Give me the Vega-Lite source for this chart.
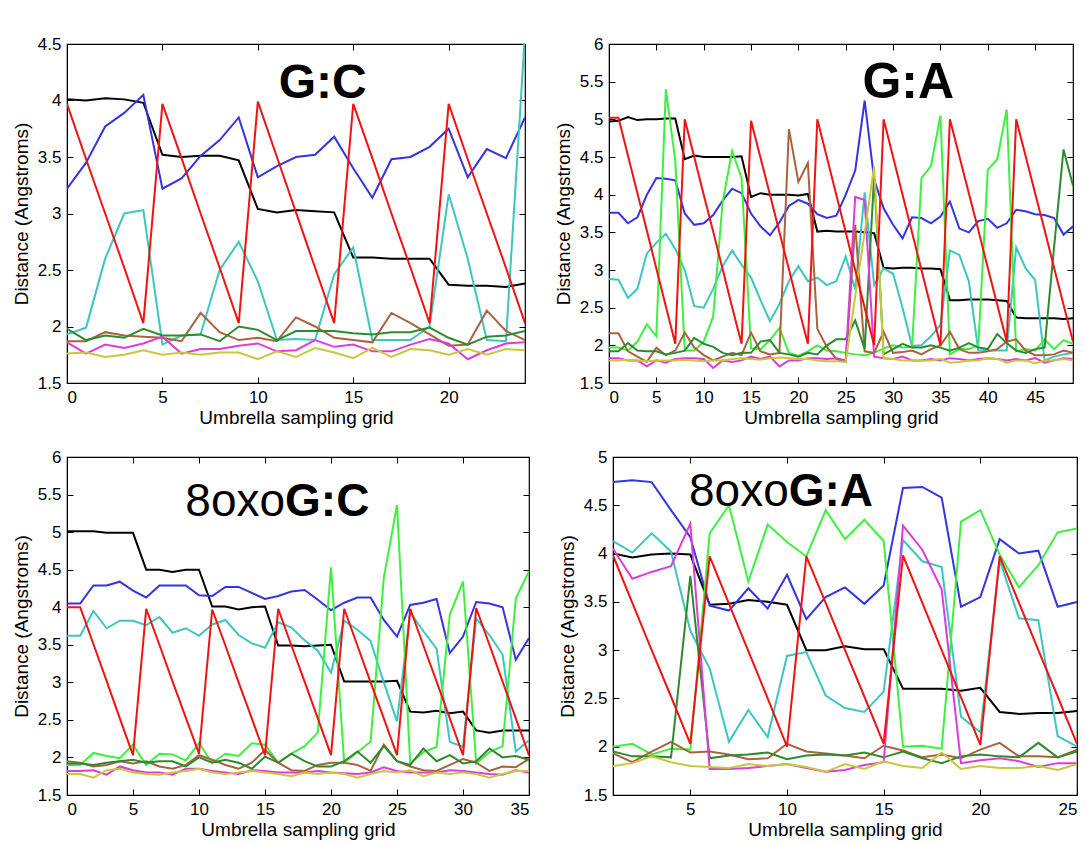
{
"$schema":"https://vega.github.io/schema/vega-lite/v6.json",
"padding":{"top":34,"left":11,"right":5,"bottom":3},
"background":"white",
"spacing":19,
"datasets":{
"gc":[
{"x":0,"k":4.01,"r":3.97,"b":3.22,"c":1.93,"br":1.87,"dg":1.98,"m":1.86,"yl":1.76},
{"x":1,"k":4.00,"r":3.48,"b":3.45,"c":1.99,"br":1.87,"dg":1.88,"m":1.76,"yl":1.77},
{"x":2,"k":4.02,"r":3.00,"b":3.77,"c":2.60,"br":1.95,"dg":1.92,"m":1.84,"yl":1.73},
{"x":3,"k":4.01,"r":2.52,"b":3.89,"c":3.00,"br":1.92,"dg":1.90,"m":1.81,"yl":1.75},
{"x":4,"k":3.98,"r":2.03,"b":4.05,"c":3.03,"br":1.91,"dg":1.98,"m":1.85,"yl":1.79},
{"x":5,"k":3.52,"r":3.97,"b":3.22,"c":1.84,"br":1.90,"dg":1.92,"m":1.91,"yl":1.75},
{"x":6,"k":3.50,"r":3.49,"b":3.31,"c":1.92,"br":1.87,"dg":1.92,"m":1.76,"yl":1.77},
{"x":7,"k":3.51,"r":3.00,"b":3.51,"c":1.93,"br":2.12,"dg":1.93,"m":1.80,"yl":1.75},
{"x":8,"k":3.51,"r":2.52,"b":3.65,"c":2.50,"br":1.95,"dg":1.87,"m":1.80,"yl":1.77},
{"x":9,"k":3.47,"r":2.03,"b":3.85,"c":2.75,"br":1.88,"dg":2.00,"m":1.83,"yl":1.77},
{"x":10,"k":3.04,"r":3.99,"b":3.32,"c":2.40,"br":1.90,"dg":1.97,"m":1.85,"yl":1.71},
{"x":11,"k":3.01,"r":3.50,"b":3.42,"c":1.88,"br":1.87,"dg":1.88,"m":1.78,"yl":1.78},
{"x":12,"k":3.03,"r":3.01,"b":3.50,"c":1.89,"br":2.08,"dg":1.96,"m":1.79,"yl":1.73},
{"x":13,"k":3.02,"r":2.52,"b":3.52,"c":1.88,"br":2.00,"dg":1.96,"m":1.88,"yl":1.81},
{"x":14,"k":3.01,"r":2.03,"b":3.68,"c":2.46,"br":1.90,"dg":1.96,"m":1.82,"yl":1.77},
{"x":15,"k":2.61,"r":3.97,"b":3.40,"c":2.70,"br":1.88,"dg":1.94,"m":1.84,"yl":1.72},
{"x":16,"k":2.61,"r":3.49,"b":3.14,"c":1.88,"br":1.86,"dg":1.93,"m":1.78,"yl":1.81},
{"x":17,"k":2.60,"r":3.00,"b":3.48,"c":1.88,"br":2.12,"dg":1.95,"m":1.78,"yl":1.73},
{"x":18,"k":2.60,"r":2.52,"b":3.50,"c":1.88,"br":2.03,"dg":1.95,"m":1.84,"yl":1.80},
{"x":19,"k":2.60,"r":2.03,"b":3.59,"c":2.00,"br":1.93,"dg":1.99,"m":1.89,"yl":1.79},
{"x":20,"k":2.37,"r":3.97,"b":3.75,"c":3.17,"br":1.83,"dg":1.90,"m":1.85,"yl":1.75},
{"x":21,"k":2.36,"r":3.48,"b":3.32,"c":2.60,"br":1.84,"dg":1.84,"m":1.71,"yl":1.80},
{"x":22,"k":2.36,"r":3.00,"b":3.57,"c":1.88,"br":2.14,"dg":1.91,"m":1.79,"yl":1.75},
{"x":23,"k":2.35,"r":2.52,"b":3.49,"c":1.87,"br":1.96,"dg":1.92,"m":1.85,"yl":1.80},
{"x":24,"k":2.38,"r":2.03,"b":3.85,"c":4.60,"br":1.88,"dg":1.96,"m":1.86,"yl":1.79}
],
"ga":[
{"x":0,"k":4.97,"r":5.02,"b":3.76,"c":2.88,"g":1.97,"br":2.16,"dg":1.92,"m":1.83,"yl":1.80},
{"x":1,"k":4.98,"r":5.02,"b":3.76,"c":2.87,"g":1.97,"br":2.16,"dg":1.92,"m":1.83,"yl":1.80},
{"x":2,"k":5.03,"r":4.52,"b":3.62,"c":2.63,"g":1.93,"br":1.92,"dg":2.03,"m":1.80,"yl":1.81},
{"x":3,"k":4.99,"r":4.02,"b":3.70,"c":2.75,"g":2.05,"br":1.85,"dg":1.93,"m":1.80,"yl":1.80},
{"x":4,"k":5.00,"r":3.52,"b":4.00,"c":3.22,"g":2.28,"br":1.78,"dg":1.92,"m":1.72,"yl":1.79},
{"x":5,"k":5.00,"r":3.02,"b":4.22,"c":3.36,"g":2.12,"br":1.97,"dg":1.92,"m":1.80,"yl":1.80},
{"x":6,"k":5.01,"r":2.52,"b":4.21,"c":3.48,"g":5.40,"br":1.87,"dg":1.88,"m":1.77,"yl":1.80},
{"x":7,"k":5.01,"r":2.02,"b":4.19,"c":3.28,"g":4.45,"br":1.93,"dg":1.90,"m":1.82,"yl":1.80},
{"x":8,"k":4.47,"r":5.00,"b":3.75,"c":3.00,"g":1.93,"br":2.17,"dg":1.93,"m":1.83,"yl":1.81},
{"x":9,"k":4.52,"r":4.50,"b":3.60,"c":2.52,"g":1.93,"br":1.97,"dg":2.10,"m":1.83,"yl":1.80},
{"x":10,"k":4.50,"r":4.00,"b":3.62,"c":2.50,"g":2.05,"br":1.87,"dg":2.02,"m":1.82,"yl":1.79},
{"x":11,"k":4.50,"r":3.51,"b":3.73,"c":2.75,"g":2.38,"br":1.80,"dg":1.98,"m":1.70,"yl":1.80},
{"x":12,"k":4.50,"r":3.01,"b":3.92,"c":3.05,"g":3.90,"br":1.85,"dg":1.90,"m":1.80,"yl":1.80},
{"x":13,"k":4.50,"r":2.51,"b":4.08,"c":3.26,"g":4.58,"br":1.90,"dg":1.87,"m":1.78,"yl":1.82},
{"x":14,"k":4.51,"r":2.02,"b":4.02,"c":3.07,"g":4.22,"br":1.87,"dg":1.90,"m":1.80,"yl":1.83},
{"x":15,"k":3.97,"r":4.98,"b":3.75,"c":2.90,"g":1.96,"br":2.17,"dg":1.90,"m":1.85,"yl":1.82},
{"x":16,"k":4.02,"r":4.49,"b":3.58,"c":2.60,"g":1.95,"br":1.92,"dg":2.05,"m":1.82,"yl":1.81},
{"x":17,"k":4.00,"r":4.00,"b":3.46,"c":2.32,"g":2.07,"br":1.88,"dg":2.07,"m":1.85,"yl":1.83},
{"x":18,"k":4.00,"r":3.50,"b":3.63,"c":2.55,"g":2.23,"br":1.90,"dg":1.90,"m":1.72,"yl":1.84},
{"x":19,"k":4.00,"r":3.01,"b":3.85,"c":2.85,"g":1.90,"br":4.87,"dg":1.88,"m":1.80,"yl":1.83},
{"x":20,"k":3.99,"r":2.51,"b":3.93,"c":3.05,"g":1.86,"br":4.17,"dg":1.85,"m":1.80,"yl":1.82},
{"x":21,"k":4.01,"r":2.02,"b":3.88,"c":2.85,"g":1.92,"br":4.42,"dg":1.90,"m":1.83,"yl":1.82},
{"x":22,"k":3.51,"r":5.00,"b":3.74,"c":2.90,"g":2.00,"br":2.22,"dg":1.88,"m":1.83,"yl":1.80},
{"x":23,"k":3.52,"r":4.50,"b":3.69,"c":2.80,"g":1.93,"br":1.98,"dg":2.00,"m":1.82,"yl":1.79},
{"x":24,"k":3.51,"r":4.00,"b":3.72,"c":2.85,"g":1.92,"br":1.82,"dg":2.08,"m":1.83,"yl":1.79},
{"x":25,"k":3.51,"r":3.50,"b":4.00,"c":3.18,"g":1.90,"br":1.78,"dg":2.08,"m":1.80,"yl":1.78},
{"x":26,"k":3.51,"r":3.00,"b":4.32,"c":2.74,"g":1.88,"br":3.60,"dg":2.33,"m":3.97,"yl":2.65},
{"x":27,"k":3.50,"r":2.50,"b":5.25,"c":4.03,"g":1.87,"br":1.92,"dg":1.95,"m":3.93,"yl":3.50},
{"x":28,"k":3.49,"r":2.00,"b":4.20,"c":2.80,"g":1.90,"br":1.90,"dg":4.25,"m":1.85,"yl":4.38},
{"x":29,"k":3.03,"r":5.00,"b":3.82,"c":3.02,"g":1.96,"br":2.18,"dg":1.88,"m":1.83,"yl":1.83},
{"x":30,"k":3.02,"r":4.50,"b":3.60,"c":2.95,"g":2.00,"br":1.90,"dg":1.95,"m":1.82,"yl":1.82},
{"x":31,"k":3.03,"r":4.00,"b":3.42,"c":2.50,"g":1.97,"br":1.91,"dg":2.02,"m":1.85,"yl":1.80},
{"x":32,"k":3.03,"r":3.50,"b":3.70,"c":1.99,"g":1.98,"br":1.93,"dg":1.97,"m":1.80,"yl":1.80},
{"x":33,"k":3.02,"r":3.00,"b":3.69,"c":2.00,"g":4.22,"br":1.88,"dg":1.97,"m":1.80,"yl":1.80},
{"x":34,"k":3.02,"r":2.50,"b":3.62,"c":2.12,"g":4.38,"br":1.95,"dg":2.00,"m":1.82,"yl":1.80},
{"x":35,"k":3.01,"r":2.00,"b":3.71,"c":2.27,"g":5.05,"br":2.00,"dg":1.97,"m":1.80,"yl":1.82},
{"x":36,"k":2.60,"r":5.00,"b":3.91,"c":3.26,"g":1.88,"br":2.18,"dg":1.93,"m":1.83,"yl":1.77},
{"x":37,"k":2.60,"r":4.51,"b":3.55,"c":3.20,"g":1.95,"br":1.95,"dg":1.97,"m":1.82,"yl":1.78},
{"x":38,"k":2.61,"r":4.02,"b":3.50,"c":2.85,"g":1.95,"br":1.90,"dg":2.03,"m":1.80,"yl":1.80},
{"x":39,"k":2.61,"r":3.53,"b":3.65,"c":1.93,"g":2.00,"br":1.90,"dg":1.97,"m":1.82,"yl":1.80},
{"x":40,"k":2.61,"r":3.03,"b":3.68,"c":1.93,"g":4.33,"br":1.92,"dg":1.95,"m":1.83,"yl":1.83},
{"x":41,"k":2.60,"r":2.54,"b":3.56,"c":1.93,"g":4.47,"br":1.95,"dg":2.15,"m":1.82,"yl":1.82},
{"x":42,"k":2.59,"r":2.05,"b":3.62,"c":1.93,"g":5.13,"br":2.05,"dg":2.03,"m":1.80,"yl":1.77},
{"x":43,"k":2.37,"r":5.00,"b":3.80,"c":3.30,"g":1.92,"br":2.08,"dg":1.93,"m":1.82,"yl":1.80},
{"x":44,"k":2.36,"r":4.51,"b":3.78,"c":3.02,"g":1.95,"br":1.93,"dg":1.90,"m":1.80,"yl":1.80},
{"x":45,"k":2.36,"r":4.02,"b":3.74,"c":2.87,"g":1.93,"br":1.87,"dg":1.95,"m":1.83,"yl":1.76},
{"x":46,"k":2.36,"r":3.53,"b":3.73,"c":1.80,"g":2.08,"br":1.87,"dg":1.97,"m":1.77,"yl":1.80},
{"x":47,"k":2.36,"r":3.03,"b":3.69,"c":1.85,"g":1.95,"br":1.88,"dg":3.30,"m":1.80,"yl":1.80},
{"x":48,"k":2.35,"r":2.54,"b":3.47,"c":1.88,"g":2.07,"br":1.93,"dg":4.60,"m":1.83,"yl":1.82},
{"x":49,"k":2.36,"r":2.05,"b":3.58,"c":1.90,"g":2.02,"br":1.90,"dg":4.12,"m":1.82,"yl":1.80}
],
"ogc":[
{"x":0,"k":5.01,"r":4.00,"b":4.05,"c":3.62,"g":1.90,"br":1.95,"dg":1.92,"m":1.82,"yl":1.78},
{"x":1,"k":5.01,"r":4.00,"b":4.05,"c":3.62,"g":1.90,"br":1.93,"dg":1.92,"m":1.82,"yl":1.78},
{"x":2,"k":5.01,"r":3.51,"b":4.29,"c":3.95,"g":2.06,"br":1.88,"dg":1.90,"m":1.83,"yl":1.73},
{"x":3,"k":4.99,"r":3.02,"b":4.29,"c":3.72,"g":2.02,"br":1.90,"dg":1.93,"m":1.77,"yl":1.83},
{"x":4,"k":4.99,"r":2.52,"b":4.34,"c":3.82,"g":1.99,"br":1.95,"dg":1.95,"m":1.88,"yl":1.85},
{"x":5,"k":4.99,"r":2.03,"b":4.22,"c":3.82,"g":2.17,"br":1.92,"dg":1.97,"m":1.83,"yl":1.80},
{"x":6,"k":4.50,"r":3.98,"b":4.13,"c":3.76,"g":1.90,"br":1.95,"dg":1.93,"m":1.80,"yl":1.78},
{"x":7,"k":4.50,"r":3.50,"b":4.29,"c":3.87,"g":2.05,"br":1.88,"dg":1.95,"m":1.80,"yl":1.77},
{"x":8,"k":4.47,"r":3.01,"b":4.29,"c":3.66,"g":2.04,"br":1.85,"dg":1.95,"m":1.77,"yl":1.80},
{"x":9,"k":4.50,"r":2.53,"b":4.29,"c":3.72,"g":1.96,"br":1.90,"dg":1.88,"m":1.85,"yl":1.82},
{"x":10,"k":4.50,"r":2.05,"b":4.16,"c":3.62,"g":2.19,"br":2.03,"dg":2.00,"m":1.85,"yl":1.85},
{"x":11,"k":4.01,"r":3.97,"b":4.15,"c":3.77,"g":1.93,"br":1.97,"dg":1.93,"m":1.82,"yl":1.80},
{"x":12,"k":4.01,"r":3.49,"b":4.27,"c":3.83,"g":2.05,"br":1.90,"dg":1.97,"m":1.80,"yl":1.78},
{"x":13,"k":3.97,"r":3.00,"b":4.27,"c":3.63,"g":2.02,"br":1.85,"dg":1.93,"m":1.78,"yl":1.80},
{"x":14,"k":4.00,"r":2.52,"b":4.19,"c":3.52,"g":2.19,"br":1.93,"dg":1.85,"m":1.83,"yl":1.82},
{"x":15,"k":4.01,"r":2.03,"b":4.11,"c":3.46,"g":2.17,"br":2.10,"dg":2.01,"m":1.82,"yl":1.80},
{"x":16,"k":3.49,"r":3.98,"b":4.15,"c":3.80,"g":1.93,"br":1.93,"dg":1.93,"m":1.80,"yl":1.78},
{"x":17,"k":3.49,"r":3.49,"b":4.21,"c":3.73,"g":2.05,"br":1.83,"dg":2.05,"m":1.80,"yl":1.75},
{"x":18,"k":3.48,"r":3.01,"b":4.23,"c":3.56,"g":2.15,"br":1.82,"dg":1.95,"m":1.80,"yl":1.80},
{"x":19,"k":3.49,"r":2.52,"b":4.10,"c":3.42,"g":2.33,"br":1.90,"dg":1.88,"m":1.82,"yl":1.78},
{"x":20,"k":3.50,"r":2.03,"b":3.96,"c":3.13,"g":4.53,"br":1.93,"dg":1.88,"m":1.80,"yl":1.80},
{"x":21,"k":3.01,"r":3.98,"b":4.06,"c":3.82,"g":1.93,"br":1.93,"dg":1.95,"m":1.79,"yl":1.78},
{"x":22,"k":3.01,"r":3.49,"b":4.13,"c":3.70,"g":2.07,"br":1.90,"dg":2.08,"m":1.78,"yl":1.73},
{"x":23,"k":3.01,"r":3.00,"b":4.13,"c":3.55,"g":2.21,"br":1.82,"dg":1.93,"m":1.80,"yl":1.78},
{"x":24,"k":3.01,"r":2.52,"b":3.83,"c":3.00,"g":4.39,"br":2.17,"dg":2.15,"m":1.87,"yl":1.82},
{"x":25,"k":3.02,"r":2.03,"b":3.61,"c":2.48,"g":5.36,"br":1.95,"dg":1.95,"m":1.82,"yl":1.80},
{"x":26,"k":2.61,"r":3.98,"b":4.03,"c":3.93,"g":1.92,"br":1.88,"dg":1.90,"m":1.80,"yl":1.83},
{"x":27,"k":2.60,"r":3.49,"b":4.06,"c":3.68,"g":2.07,"br":1.83,"dg":2.12,"m":1.80,"yl":1.75},
{"x":28,"k":2.62,"r":3.01,"b":4.11,"c":3.45,"g":2.14,"br":1.82,"dg":1.95,"m":1.80,"yl":1.80},
{"x":29,"k":2.59,"r":2.52,"b":3.39,"c":2.21,"g":3.90,"br":1.90,"dg":2.03,"m":1.83,"yl":1.78},
{"x":30,"k":2.61,"r":2.03,"b":3.61,"c":2.14,"g":4.34,"br":1.98,"dg":1.92,"m":1.82,"yl":1.80},
{"x":31,"k":2.36,"r":3.99,"b":4.07,"c":3.85,"g":1.92,"br":1.93,"dg":1.95,"m":1.80,"yl":1.78},
{"x":32,"k":2.33,"r":3.50,"b":4.05,"c":3.63,"g":2.07,"br":1.82,"dg":2.12,"m":1.78,"yl":1.73},
{"x":33,"k":2.36,"r":3.01,"b":4.00,"c":3.37,"g":2.15,"br":1.88,"dg":2.00,"m":1.77,"yl":1.78},
{"x":34,"k":2.36,"r":2.52,"b":3.30,"c":2.08,"g":4.12,"br":1.87,"dg":2.02,"m":1.83,"yl":1.82},
{"x":35,"k":2.36,"r":2.03,"b":3.59,"c":2.23,"g":4.48,"br":1.98,"dg":1.97,"m":1.80,"yl":1.82}
],
"oga":[
{"x":1,"k":4.00,"r":3.98,"b":4.74,"c":4.13,"g":2.00,"br":1.93,"dg":1.95,"m":4.05,"yl":1.80},
{"x":2,"k":3.96,"r":3.49,"b":4.76,"c":4.01,"g":2.03,"br":1.84,"dg":1.90,"m":3.74,"yl":1.83},
{"x":3,"k":3.99,"r":3.00,"b":4.74,"c":4.21,"g":1.92,"br":1.95,"dg":1.90,"m":3.81,"yl":1.90},
{"x":4,"k":4.00,"r":2.52,"b":4.45,"c":4.02,"g":1.98,"br":2.05,"dg":1.89,"m":3.87,"yl":1.84},
{"x":5,"k":3.99,"r":2.03,"b":4.17,"c":3.20,"g":1.97,"br":1.94,"dg":3.77,"m":4.31,"yl":1.80},
{"x":6,"k":3.47,"r":3.97,"b":3.46,"c":2.81,"g":4.21,"br":1.95,"dg":1.88,"m":1.77,"yl":1.79},
{"x":7,"k":3.48,"r":3.48,"b":3.41,"c":2.05,"g":4.50,"br":1.92,"dg":1.91,"m":1.77,"yl":1.78},
{"x":8,"k":3.52,"r":2.99,"b":3.64,"c":2.38,"g":3.71,"br":1.87,"dg":1.92,"m":1.78,"yl":1.82},
{"x":9,"k":3.50,"r":2.50,"b":3.43,"c":2.10,"g":4.30,"br":1.88,"dg":1.94,"m":1.80,"yl":1.80},
{"x":10,"k":3.47,"r":2.00,"b":3.78,"c":2.94,"g":4.12,"br":2.03,"dg":1.87,"m":1.82,"yl":1.82},
{"x":11,"k":3.00,"r":3.97,"b":3.32,"c":2.98,"g":3.97,"br":1.95,"dg":1.91,"m":1.78,"yl":1.79},
{"x":12,"k":3.00,"r":3.49,"b":3.55,"c":2.53,"g":4.45,"br":1.93,"dg":1.92,"m":1.74,"yl":1.74},
{"x":13,"k":3.04,"r":3.00,"b":3.65,"c":2.40,"g":4.15,"br":1.91,"dg":1.91,"m":1.76,"yl":1.82},
{"x":14,"k":3.01,"r":2.52,"b":3.48,"c":2.36,"g":4.35,"br":1.88,"dg":1.94,"m":1.81,"yl":1.77},
{"x":15,"k":3.01,"r":2.03,"b":3.67,"c":2.57,"g":4.13,"br":2.01,"dg":1.89,"m":1.84,"yl":1.85},
{"x":16,"k":2.60,"r":3.98,"b":4.68,"c":4.14,"g":2.00,"br":1.96,"dg":1.95,"m":4.29,"yl":1.80},
{"x":17,"k":2.60,"r":3.49,"b":4.69,"c":3.92,"g":2.01,"br":1.89,"dg":1.88,"m":4.04,"yl":1.78},
{"x":18,"k":2.60,"r":3.00,"b":4.58,"c":3.86,"g":1.98,"br":1.92,"dg":1.83,"m":3.63,"yl":1.94},
{"x":19,"k":2.58,"r":2.51,"b":3.45,"c":2.31,"g":4.33,"br":1.88,"dg":1.90,"m":1.83,"yl":1.77},
{"x":20,"k":2.61,"r":2.02,"b":3.55,"c":2.15,"g":4.45,"br":1.97,"dg":1.92,"m":1.86,"yl":1.80},
{"x":21,"k":2.36,"r":3.97,"b":4.15,"c":3.93,"g":3.99,"br":2.04,"dg":1.90,"m":1.88,"yl":1.78},
{"x":22,"k":2.34,"r":3.49,"b":4.00,"c":3.33,"g":3.65,"br":1.90,"dg":1.89,"m":1.85,"yl":1.78},
{"x":23,"k":2.35,"r":3.00,"b":4.03,"c":3.31,"g":3.88,"br":1.90,"dg":2.04,"m":1.79,"yl":1.80},
{"x":24,"k":2.35,"r":2.52,"b":3.45,"c":2.11,"g":4.22,"br":1.89,"dg":1.89,"m":1.83,"yl":1.76},
{"x":25,"k":2.37,"r":2.03,"b":3.50,"c":2.00,"g":4.26,"br":1.97,"dg":1.95,"m":1.83,"yl":1.82}
]
},
"config":{
"font":"Liberation Sans",
"view":{"stroke":"#000000","strokeWidth":1.2},
"axis":{"labelFont":"Liberation Sans","titleFont":"Liberation Sans","labelFontSize":17,"titleFontSize":19,"titleFontWeight":"normal","labelColor":"#000000","titleColor":"#000000","domainColor":"#000000","tickColor":"#000000","grid":false,"tickSize":-6},
"axisX":{"titleFontSize":19,"titlePadding":3,"labelPadding":12},
"axisY":{"titlePadding":6,"labelPadding":12}
},
"vconcat":[
{"spacing":26,"hconcat":[
{"width":458,"height":339,"data":{"name":"gc"},
"layer":[
{"transform":[{"fold":["k","b","c","br","dg","m","yl","r"],"as":["series","d"]}],
"mark":{"type":"line","strokeWidth":2,"clip":true},
"encoding":{
"x":{"field":"x","type":"quantitative","scale":{"domain":[0,24],"nice":false,"zero":false},"axis":{"values":[0,5,10,15,20],"format":"d","title":"Umbrella sampling grid"}},
"y":{"field":"d","type":"quantitative","scale":{"domain":[1.5,4.5],"nice":false,"zero":false},"axis":{"values":[1.5,2,2.5,3,3.5,4,4.5],"format":"~g","title":"Distance (Angstroms)"}},
"color":{"field":"series","type":"nominal","legend":null,"scale":{"domain":["k","r","b","c","g","br","dg","m","yl"],"range":["#000000","#f21212","#3434e0","#3cc6c0","#3ef03e","#aa623c","#2e8a2e","#dc3cdc","#c8c83a"]}}
}},
{"transform":[{"fold":["k"],"as":["series","d"]}],
"mark":{"type":"line","opacity":0},
"encoding":{
"x":{"field":"x","type":"quantitative","scale":{"domain":[0,24],"nice":false,"zero":false},"axis":{"orient":"top","values":[0,5,10,15,20],"labels":false,"title":null,"domain":false}},
"y":{"field":"d","type":"quantitative","scale":{"domain":[1.5,4.5],"nice":false,"zero":false},"axis":{"orient":"right","values":[1.5,2,2.5,3,3.5,4,4.5],"labels":false,"title":null,"domain":false}}
}},
{"data":{"values":[{}]},
"mark":{"type":"text","fontSize":48,"fontWeight":"bold","align":"center","baseline":"alphabetic","font":"Liberation Sans"},
"encoding":{
"x":{"datum":13.4,"type":"quantitative","axis":null,"scale":{"domain":[0,24],"nice":false,"zero":false}},
"y":{"datum":4.02,"type":"quantitative","axis":null,"scale":{"domain":[1.5,4.5],"nice":false,"zero":false}},
"text":{"value":"G:C"}
}}
],
"resolve":{"axis":{"x":"independent","y":"independent"}}
},
{"width":464,"height":339,"data":{"name":"ga"},
"layer":[
{"transform":[{"fold":["k","b","c","g","br","dg","m","yl","r"],"as":["series","d"]}],
"mark":{"type":"line","strokeWidth":2,"clip":true},
"encoding":{
"x":{"field":"x","type":"quantitative","scale":{"domain":[0,49],"nice":false,"zero":false},"axis":{"values":[0,5,10,15,20,25,30,35,40,45],"format":"d","title":"Umbrella sampling grid"}},
"y":{"field":"d","type":"quantitative","scale":{"domain":[1.5,6],"nice":false,"zero":false},"axis":{"values":[1.5,2,2.5,3,3.5,4,4.5,5,5.5,6],"format":"~g","title":"Distance (Angstroms)"}},
"color":{"field":"series","type":"nominal","legend":null,"scale":{"domain":["k","r","b","c","g","br","dg","m","yl"],"range":["#000000","#f21212","#3434e0","#3cc6c0","#3ef03e","#aa623c","#2e8a2e","#dc3cdc","#c8c83a"]}}
}},
{"transform":[{"fold":["k"],"as":["series","d"]}],
"mark":{"type":"line","opacity":0},
"encoding":{
"x":{"field":"x","type":"quantitative","scale":{"domain":[0,49],"nice":false,"zero":false},"axis":{"orient":"top","values":[0,5,10,15,20,25,30,35,40,45],"labels":false,"title":null,"domain":false}},
"y":{"field":"d","type":"quantitative","scale":{"domain":[1.5,6],"nice":false,"zero":false},"axis":{"orient":"right","values":[1.5,2,2.5,3,3.5,4,4.5,5,5.5,6],"labels":false,"title":null,"domain":false}}
}},
{"data":{"values":[{}]},
"mark":{"type":"text","fontSize":50,"fontWeight":"bold","align":"center","baseline":"alphabetic","font":"Liberation Sans"},
"encoding":{
"x":{"datum":31.6,"type":"quantitative","axis":null,"scale":{"domain":[0,49],"nice":false,"zero":false}},
"y":{"datum":5.28,"type":"quantitative","axis":null,"scale":{"domain":[1.5,6],"nice":false,"zero":false}},
"text":{"value":"G:A"}
}}
],
"resolve":{"axis":{"x":"independent","y":"independent"}}
}
]},
{"spacing":26,"hconcat":[
{"width":462,"height":338,"data":{"name":"ogc"},
"layer":[
{"transform":[{"fold":["k","b","c","g","br","dg","m","yl","r"],"as":["series","d"]}],
"mark":{"type":"line","strokeWidth":2,"clip":true},
"encoding":{
"x":{"field":"x","type":"quantitative","scale":{"domain":[0,35],"nice":false,"zero":false},"axis":{"values":[0,5,10,15,20,25,30,35],"format":"d","title":"Umbrella sampling grid"}},
"y":{"field":"d","type":"quantitative","scale":{"domain":[1.5,6],"nice":false,"zero":false},"axis":{"values":[1.5,2,2.5,3,3.5,4,4.5,5,5.5,6],"format":"~g","title":"Distance (Angstroms)"}},
"color":{"field":"series","type":"nominal","legend":null,"scale":{"domain":["k","r","b","c","g","br","dg","m","yl"],"range":["#000000","#f21212","#3434e0","#3cc6c0","#3ef03e","#aa623c","#2e8a2e","#dc3cdc","#c8c83a"]}}
}},
{"transform":[{"fold":["k"],"as":["series","d"]}],
"mark":{"type":"line","opacity":0},
"encoding":{
"x":{"field":"x","type":"quantitative","scale":{"domain":[0,35],"nice":false,"zero":false},"axis":{"orient":"top","values":[0,5,10,15,20,25,30,35],"labels":false,"title":null,"domain":false}},
"y":{"field":"d","type":"quantitative","scale":{"domain":[1.5,6],"nice":false,"zero":false},"axis":{"orient":"right","values":[1.5,2,2.5,3,3.5,4,4.5,5,5.5,6],"labels":false,"title":null,"domain":false}}
}},
{"data":{"values":[{}]},
"mark":{"type":"text","fontSize":46,"fontWeight":"normal","align":"right","baseline":"alphabetic","font":"Liberation Sans"},
"encoding":{
"x":{"datum":16.52,"type":"quantitative","axis":null,"scale":{"domain":[0,35],"nice":false,"zero":false}},
"y":{"datum":5.21,"type":"quantitative","axis":null,"scale":{"domain":[1.5,6],"nice":false,"zero":false}},
"text":{"value":"8oxo"}
}},
{"data":{"values":[{}]},
"mark":{"type":"text","fontSize":46,"fontWeight":"bold","align":"left","baseline":"alphabetic","font":"Liberation Sans"},
"encoding":{
"x":{"datum":16.52,"type":"quantitative","axis":null,"scale":{"domain":[0,35],"nice":false,"zero":false}},
"y":{"datum":5.21,"type":"quantitative","axis":null,"scale":{"domain":[1.5,6],"nice":false,"zero":false}},
"text":{"value":"G:C"}
}}
],
"resolve":{"axis":{"x":"independent","y":"independent"}}
},
{"width":464,"height":338,"data":{"name":"oga"},
"layer":[
{"transform":[{"fold":["k","b","c","g","br","dg","m","yl","r"],"as":["series","d"]}],
"mark":{"type":"line","strokeWidth":2,"clip":true},
"encoding":{
"x":{"field":"x","type":"quantitative","scale":{"domain":[1,25],"nice":false,"zero":false},"axis":{"values":[5,10,15,20,25],"format":"d","title":"Umbrella sampling grid"}},
"y":{"field":"d","type":"quantitative","scale":{"domain":[1.5,5],"nice":false,"zero":false},"axis":{"values":[1.5,2,2.5,3,3.5,4,4.5,5],"format":"~g","title":"Distance (Angstroms)"}},
"color":{"field":"series","type":"nominal","legend":null,"scale":{"domain":["k","r","b","c","g","br","dg","m","yl"],"range":["#000000","#f21212","#3434e0","#3cc6c0","#3ef03e","#aa623c","#2e8a2e","#dc3cdc","#c8c83a"]}}
}},
{"transform":[{"fold":["k"],"as":["series","d"]}],
"mark":{"type":"line","opacity":0},
"encoding":{
"x":{"field":"x","type":"quantitative","scale":{"domain":[1,25],"nice":false,"zero":false},"axis":{"orient":"top","values":[5,10,15,20,25],"labels":false,"title":null,"domain":false}},
"y":{"field":"d","type":"quantitative","scale":{"domain":[1.5,5],"nice":false,"zero":false},"axis":{"orient":"right","values":[1.5,2,2.5,3,3.5,4,4.5,5],"labels":false,"title":null,"domain":false}}
}},
{"data":{"values":[{}]},
"mark":{"type":"text","fontSize":46,"fontWeight":"normal","align":"right","baseline":"alphabetic","font":"Liberation Sans"},
"encoding":{
"x":{"datum":10.09,"type":"quantitative","axis":null,"scale":{"domain":[1,25],"nice":false,"zero":false}},
"y":{"datum":4.49,"type":"quantitative","axis":null,"scale":{"domain":[1.5,5],"nice":false,"zero":false}},
"text":{"value":"8oxo"}
}},
{"data":{"values":[{}]},
"mark":{"type":"text","fontSize":46,"fontWeight":"bold","align":"left","baseline":"alphabetic","font":"Liberation Sans"},
"encoding":{
"x":{"datum":10.09,"type":"quantitative","axis":null,"scale":{"domain":[1,25],"nice":false,"zero":false}},
"y":{"datum":4.49,"type":"quantitative","axis":null,"scale":{"domain":[1.5,5],"nice":false,"zero":false}},
"text":{"value":"G:A"}
}}
],
"resolve":{"axis":{"x":"independent","y":"independent"}}
}
]}
]
}
